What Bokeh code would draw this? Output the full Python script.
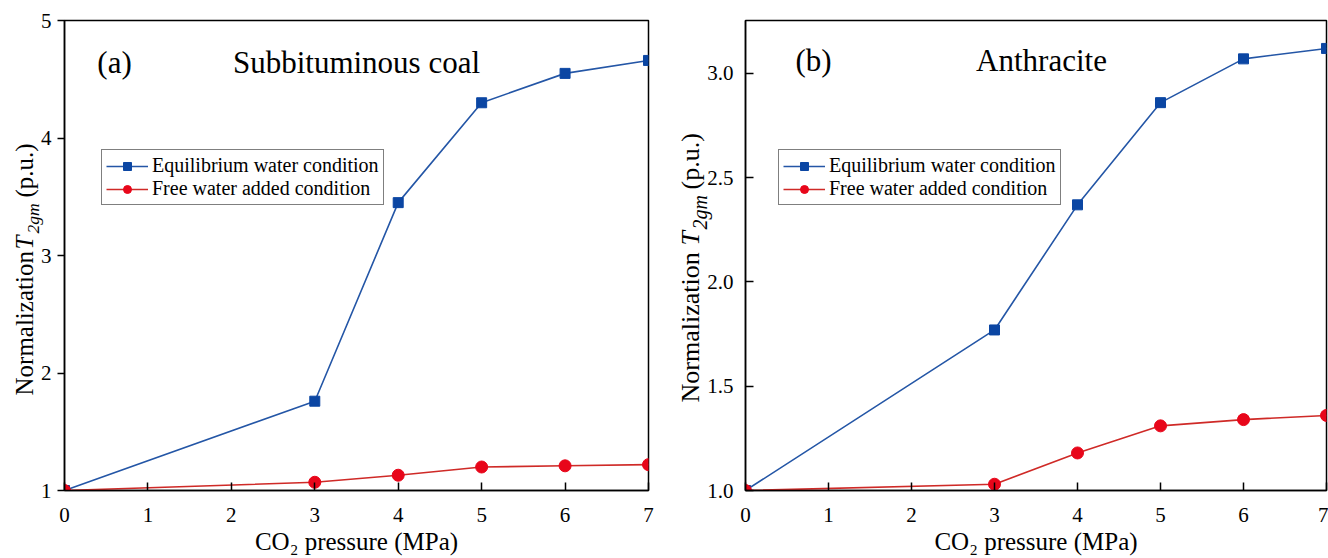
from bokeh.plotting import figure
from bokeh.layouts import row
from bokeh.models import (Range1d, FixedTicker, PrintfTickFormatter, Label, Legend,
                          LegendItem, Title)
from bokeh.embed import file_html
from bokeh.resources import INLINE

# ---- data ----
pressure = [0, 3, 4, 5, 6, 7]
x_ticks = [0, 1, 2, 3, 4, 5, 6, 7]

sub_equilibrium = [1.0, 1.76, 3.45, 4.30, 4.55, 4.66]
sub_free = [1.0, 1.07, 1.13, 1.20, 1.21, 1.22]
sub_yticks = [1, 2, 3, 4, 5]

ant_equilibrium = [1.0, 1.77, 2.37, 2.86, 3.07, 3.12]
ant_free = [1.0, 1.03, 1.18, 1.31, 1.34, 1.36]
ant_yticks = [1.0, 1.5, 2.0, 2.5, 3.0]

series_names = ["Equilibrium water condition", "Free water added condition"]
x_title = "CO\u2082 pressure (MPa)"
y_title_parts = ["Normalization", "T", "2gm", "(p.u.)"]

FONT = "Liberation Serif"
BLUE_LINE = "#2456a6"
BLUE_MARK = "#0b46a3"
RED_LINE = "#cf2a27"
RED_MARK = "#e8061a"


def make_panel(eq, free, yr, yticks, fmt, fw, bl, br, ytick_in, ytick_out, ylab_std,
               tag, title, tag_xy, title_xy, ylab_cfg, legend_loc):
    p = figure(frame_width=fw, frame_height=470, min_border_left=bl, min_border_right=br,
               min_border_top=20, min_border_bottom=68,
               x_range=Range1d(0, 7), y_range=Range1d(*yr),
               output_backend="svg", toolbar_location=None)
    p.grid.visible = False
    p.outline_line_color = "black"
    p.outline_line_width = 1.5
    p.outline_line_alpha = 1
    p.background_fill_color = "white"
    p.border_fill_color = "white"

    for ax in (p.xaxis[0], p.yaxis[0]):
        ax.axis_line_color = "black"
        ax.axis_line_width = 1.5
        ax.major_tick_line_color = "black"
        ax.major_tick_line_width = 1.5
        ax.minor_tick_line_color = None
        ax.major_label_text_font = FONT
        ax.major_label_text_font_size = "21px"
        ax.major_label_text_color = "black"
        ax.axis_label_text_font = FONT
        ax.axis_label_text_font_style = "normal"
        ax.axis_label_text_color = "black"

    xa = p.xaxis[0]
    xa.ticker = FixedTicker(ticks=x_ticks)
    xa.major_tick_in = 8
    xa.major_tick_out = 0
    xa.major_label_standoff = 17
    xa.axis_label = x_title
    xa.axis_label_text_font_size = "25px"
    xa.axis_label_standoff = 3

    ya = p.yaxis[0]
    ya.ticker = FixedTicker(ticks=yticks)
    ya.formatter = PrintfTickFormatter(format=fmt)
    ya.major_tick_in = ytick_in
    ya.major_tick_out = ytick_out
    ya.major_label_standoff = ylab_std

    r1 = p.line(pressure, eq, line_color=BLUE_LINE, line_width=1.6)
    s1 = p.scatter(pressure, eq, marker="square", size=10, fill_color=BLUE_MARK,
                   line_color=BLUE_MARK)
    r2 = p.line(pressure, free, line_color=RED_LINE, line_width=1.6)
    s2 = p.scatter(pressure, free, marker="circle", size=12, fill_color=RED_MARK,
                   line_color=RED_MARK)

    legend = Legend(items=[LegendItem(label=series_names[0], renderers=[r1, s1]),
                           LegendItem(label=series_names[1], renderers=[r2, s2])],
                    location=legend_loc, orientation="vertical",
                    label_text_font=FONT, label_text_font_size="20px",
                    label_text_color="black", label_height=22, glyph_height=20,
                    glyph_width=42, label_standoff=4, spacing=0, padding=4, margin=0,
                    border_line_color="black", border_line_width=1,
                    background_fill_color="white", background_fill_alpha=1)
    p.add_layout(legend, "center")

    p.add_layout(Label(x=tag_xy[0], y=tag_xy[1], text=tag, text_font=FONT,
                       text_font_size="31px", text_align="center", text_baseline="middle",
                       text_color="black"))
    p.add_layout(Label(x=title_xy[0], y=title_xy[1], text=title, text_font=FONT,
                       text_font_size="31px", text_align="center", text_baseline="middle",
                       text_color="black"))

    # y-axis title built from pieces (normal / italic / subscript), stacked in the left panel
    for (txt, offset, standoff, size, style, valign) in ylab_cfg:
        p.add_layout(Title(text=txt, align="left", offset=offset, standoff=standoff,
                           vertical_align=valign, text_font=FONT, text_font_size=size,
                           text_font_style=style, text_color="black"), "left")
    return p


pa = make_panel(sub_equilibrium, sub_free, (1, 5), sub_yticks, "%d", 584, 64, 12, 0, 7, 6,
                "(a)", "Subbituminous coal", (0.60, 4.643), (3.5, 4.643),
                [(y_title_parts[0], 95, -53, "25px", "normal", "top"),
                 (y_title_parts[1], 241, -53, "25px", "italic", "top"),
                 (y_title_parts[3], 293, -53, "25px", "normal", "top"),
                 (y_title_parts[2], 257, -11, "17.5px", "italic", "bottom")],
                (37, 285))

pb = make_panel(ant_equilibrium, ant_free, (1.0, 3.254), ant_yticks, "%.1f", 581, 85, 2, 8, 0, 12,
                "(b)", "Anthracite", (0.82, 3.062), (3.566, 3.062),
                [(y_title_parts[0], 88, -57, "26px", "normal", "top"),
                 (y_title_parts[1], 245, -57, "26px", "italic", "top"),
                 (y_title_parts[3], 301, -57, "26px", "normal", "top"),
                 (y_title_parts[2], 261, -12, "20px", "italic", "bottom")],
                (33, 285))

layout = row(pa, pb)
open("out.html", "w").write(file_html(layout, INLINE))
